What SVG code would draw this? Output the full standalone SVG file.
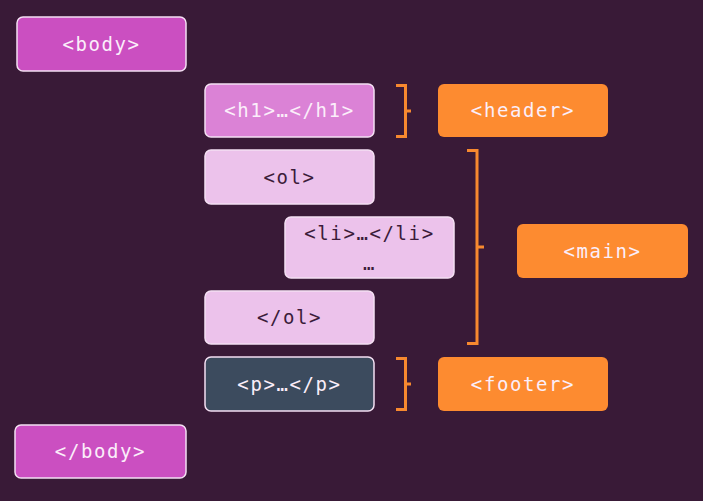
<svg xmlns="http://www.w3.org/2000/svg" width="703" height="501" viewBox="0 0 703 501">
<style>
.box{stroke:#f4e0f3;stroke-width:1.5}
.t{font-family:"DejaVu Sans Mono","Liberation Mono",monospace;font-size:19px;letter-spacing:1.6px;text-anchor:middle}
.light{fill:#fbeefa}
.dark{fill:#3b1c3a}
.org{fill:#fd8b30}
.br{fill:none;stroke:#f7892f;stroke-width:3;stroke-linejoin:miter}
</style>
<rect width="703" height="501" fill="#391a37"/>
<g id="body-open"><rect class="box" x="17" y="17" width="169" height="54" rx="6" fill="#cb4fc1"/><text class="t light" x="101.5" y="51">&lt;body&gt;</text></g>
<g id="h1"><rect class="box" x="205" y="84" width="169" height="53" rx="6" fill="#db82d6"/><text class="t light" x="289.5" y="117">&lt;h1&gt;…&lt;/h1&gt;</text></g>
<g id="ol-open"><rect class="box" x="205" y="150" width="169" height="54" rx="6" fill="#ecc2eb"/><text class="t dark" x="289.5" y="184">&lt;ol&gt;</text></g>
<g id="li"><rect class="box" x="285" y="217" width="169" height="61" rx="6" fill="#ecc2eb"/><text class="t dark" x="369.5" y="240">&lt;li&gt;…&lt;/li&gt;</text><text class="t dark" x="369.5" y="270">…</text></g>
<g id="ol-close"><rect class="box" x="205" y="291" width="169" height="53" rx="6" fill="#ecc2eb"/><text class="t dark" x="289.5" y="324">&lt;/ol&gt;</text></g>
<g id="p"><rect class="box" x="205" y="357" width="169" height="54" rx="6" fill="#3c4b5e"/><text class="t light" x="289.5" y="391">&lt;p&gt;…&lt;/p&gt;</text></g>
<g id="body-close"><rect class="box" x="15" y="425" width="171" height="53" rx="6" fill="#cb4fc1"/><text class="t light" x="100.5" y="458">&lt;/body&gt;</text></g>
<g id="header"><rect class="org" x="438" y="84" width="170" height="53" rx="6"/><text class="t light" x="523" y="117">&lt;header&gt;</text></g>
<g id="main"><rect class="org" x="517" y="224" width="171" height="54" rx="6"/><text class="t light" x="602.5" y="258">&lt;main&gt;</text></g>
<g id="footer"><rect class="org" x="438" y="357" width="170" height="54" rx="6"/><text class="t light" x="523" y="391">&lt;footer&gt;</text></g>
<g id="connectors">
<path class="br" d="M396 85.5H405.5V136.5H396M405.5 111H411"/>
<path class="br" d="M467 150.5H477V343.5H467M477 247H484"/>
<path class="br" d="M396 358.5H405.5V409.5H396M405.5 384H411"/>
</g>
</svg>
